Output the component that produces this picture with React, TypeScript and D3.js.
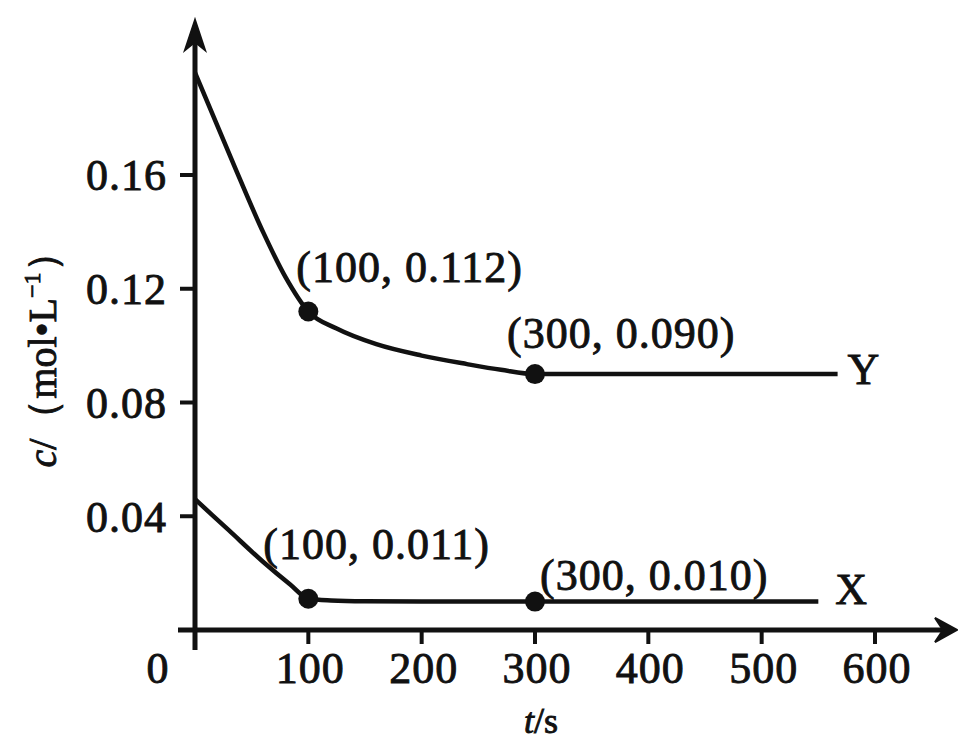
import React from "react";
import * as d3 from "d3";

const width = 958;
const height = 747;

// Y curve (upper)
const timeY = [0, 37, 60, 80, 100, 125, 160, 200, 240, 270, 300, 400, 567];
const concY = [0.196, 0.161, 0.14, 0.124, 0.112, 0.106, 0.1005, 0.0965, 0.0935, 0.0915, 0.09, 0.09, 0.09];

// X curve (lower)
const timeX = [0, 30, 60, 84, 100, 120, 150, 200, 300, 400, 550];
const concX = [0.046, 0.035, 0.024, 0.016, 0.011, 0.0104, 0.0101, 0.01, 0.01, 0.01, 0.01];

// marked points
const marks = [
  { t: 100, c: 0.112, label: "(100, 0.112)", dx: -12, dy: -30 },
  { t: 300, c: 0.09, label: "(300, 0.090)", dx: -28, dy: -26 },
  { t: 100, c: 0.011, label: "(100, 0.011)", dx: -45, dy: -40 },
  { t: 300, c: 0.01, label: "(300, 0.010)", dx: 5, dy: -12 },
];

const xTicks = [100, 200, 300, 400, 500, 600];
const yTicks = [0.04, 0.08, 0.12, 0.16];

const font = "'Liberation Serif', 'Times New Roman', serif";

const App = () => {
  const x = d3.scaleLinear().domain([0, 600]).range([195, 875]);
  const y = d3.scaleLinear().domain([0, 0.16]).range([630, 175]);

  const line = d3
    .line<[number, number]>()
    .x((d) => x(d[0]))
    .y((d) => y(d[1]))
    .curve(d3.curveMonotoneX);

  const pathY = line(timeY.map((t, i) => [t, concY[i]]));
  const pathX = line(timeX.map((t, i) => [t, concX[i]]));

  const x0 = x(0);
  const y0 = y(0);
  const textStyle = { fontFamily: font, fontSize: 44, letterSpacing: 1, fill: "#111", stroke: "#111", strokeWidth: 0.9 };

  return (
    <svg width={width} height={height} style={{ position: "absolute", left: 0, top: 0, background: "#fff" }}>
      {/* axes */}
      <line x1={x0} x2={x0} y1={y0 + 20} y2={26} stroke="#111" strokeWidth={5} />
      <path d={`M${x0},20 L${x0 - 10},50 L${x0},42 L${x0 + 10},50 Z`} fill="#111" stroke="#111" strokeWidth={2} />
      <line x1={178} x2={950} y1={y0} y2={y0} stroke="#111" strokeWidth={5} />
      <path d={`M957,${y0} L935,${y0 - 12} L943,${y0} L935,${y0 + 12} Z`} fill="#111" stroke="#111" strokeWidth={2} />

      {yTicks.map((v) => (
        <g key={v}>
          <line x1={x0 - 15} x2={x0} y1={y(v)} y2={y(v)} stroke="#111" strokeWidth={4} />
          <text x={x0 - 28} y={y(v)} dy="0.35em" textAnchor="end" style={textStyle}>
            {d3.format(".2f")(v)}
          </text>
        </g>
      ))}
      {xTicks.map((v) => (
        <g key={v}>
          <line x1={x(v)} x2={x(v)} y1={y0} y2={y0 + 14} stroke="#111" strokeWidth={4} />
          <text x={x(v) + 2} y={683} textAnchor="middle" style={textStyle}>
            {v}
          </text>
        </g>
      ))}
      <text x={158} y={683} textAnchor="middle" style={textStyle}>
        0
      </text>

      {/* axis titles */}
      <text x={541} y={733} textAnchor="middle" style={{ ...textStyle, fontSize: 36, letterSpacing: 0 }}>
        <tspan fontStyle="italic">t</tspan>/s
      </text>
      <text
        transform="translate(56,350) rotate(-90)"
        textAnchor="middle"
        style={{ ...textStyle, fontSize: 40, letterSpacing: 0 }}
      >
        <tspan fontStyle="italic">c</tspan>/（mol•L
        <tspan fontSize={24} dy={-16}>
          −1
        </tspan>
        <tspan dy={16}>）</tspan>
      </text>

      {/* curves */}
      <path d={pathY ?? ""} fill="none" stroke="#111" strokeWidth={4.5} />
      <path d={pathX ?? ""} fill="none" stroke="#111" strokeWidth={4.5} />

      {marks.map((m) => (
        <g key={m.label}>
          <circle cx={x(m.t)} cy={y(m.c)} r={10} fill="#111" />
          <text x={x(m.t) + m.dx} y={y(m.c) + m.dy} style={textStyle}>
            {m.label}
          </text>
        </g>
      ))}

      {/* series names */}
      <text x={x(567) + 10} y={y(0.09) + 10} style={textStyle}>
        Y
      </text>
      <text x={x(550) + 17} y={y(0.01) + 2} style={textStyle}>
        X
      </text>
    </svg>
  );
};

export default App;
